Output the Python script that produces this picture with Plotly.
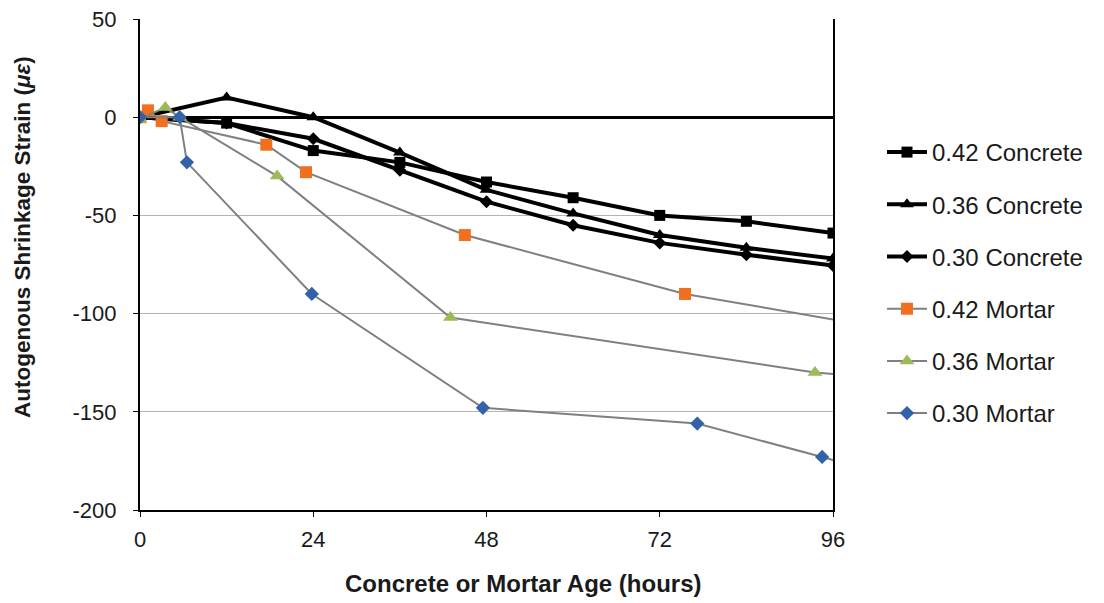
import plotly.graph_objects as go

# ---------------- data ----------------
conc_hours = [0, 12, 24, 36, 48, 60, 72, 84, 96]
conc_042 = [0, -3, -17, -23, -33, -41, -50, -53, -59]
conc_036 = [0, 10, 0, -18, -37, -49, -60, -66.5, -72]
conc_030 = [0, -3, -11, -27, -43, -55, -64, -70, -75.5]

mort042_hours = [0, 1.1, 3, 17.5, 23, 45, 75.5, 100]
mort042 = [0, 3.5, -2, -14, -28, -60, -90, -105.5]

mort036_hours = [0, 3.5, 5.5, 19, 43, 93.5, 100]
mort036 = [-1, 5, 0, -30, -102, -130, -132]

mort030_hours = [0, 5.5, 6.5, 23.8, 47.5, 77.2, 94.5, 100]
mort030 = [0, 0, -23, -90, -148, -156, -173, -178.5]

x_ticks = [0, 24, 48, 72, 96]
y_ticks = [50, 0, -50, -100, -150, -200]

FONT = "Liberation Sans, Arial, sans-serif"

fig = go.Figure()

def add(name, x, y, color, lw, sym, msize, mcolor, group):
    fig.add_trace(go.Scatter(
        x=x, y=y, name=name, mode="lines+markers",
        line=dict(color=color, width=lw),
        marker=dict(symbol=sym, size=msize, color=mcolor,
                    line=dict(width=0)),
        legendgroup=group,
    ))

add("0.42 Concrete", conc_hours, conc_042, "#000000", 4, "square", 11, "#000000", "a")
add("0.36 Concrete", conc_hours, conc_036, "#000000", 4, "triangle-up", 12, "#000000", "b")
add("0.30 Concrete", conc_hours, conc_030, "#000000", 4, "diamond", 10, "#000000", "c")
add("0.42 Mortar", mort042_hours, mort042, "#808080", 2, "square", 12, "#F07020", "d")
add("0.36 Mortar", mort036_hours, mort036, "#808080", 2, "triangle-up", 13, "#9BBB59", "e")
add("0.30 Mortar", mort030_hours, mort030, "#808080", 2, "diamond", 11, "#3462A8", "f")

# page has an 8px body margin; figure occupies (8..1104, 8..603)
OFF = 8
W, H = 1104 - OFF, 603 - OFF
PL, PR, PT, PB = 140, 833, 19, 510          # plot area in page pixels
L, T = PL - OFF, PT - OFF
R, B = 1104 - PR, 603 - PB
PW, PH = PR - PL, PB - PT

def px(x):
    return (x - PL) / PW

def py(y):
    return (PB - y) / PH

fig.update_layout(
    width=W, height=H,
    margin=dict(l=L, r=R, t=T, b=B, pad=0, autoexpand=False),
    paper_bgcolor="white", plot_bgcolor="white",
    font=dict(family=FONT, size=21, color="#1a1a1a"),
    showlegend=True,
    legend=dict(
        x=px(882), y=py(130), xanchor="left", yanchor="top",
        font=dict(family=FONT, size=24, color="#1a1a1a"),
        traceorder="grouped", tracegroupgap=18, itemwidth=40,
        bgcolor="rgba(0,0,0,0)",
    ),
    xaxis=dict(
        range=[0, 96], tickvals=x_ticks, ticktext=[str(v) for v in x_ticks],
        showgrid=False, zeroline=False, automargin=False,
        showline=True, linecolor="#000000", linewidth=2,
        ticks="outside", ticklen=5, tickcolor="#000000", tickwidth=1,
        ticklabelstandoff=4, ticklabeloverflow="allow",
        tickfont=dict(size=22, color="#1a1a1a"),
    ),
    yaxis=dict(
        range=[-200, 50], tickvals=y_ticks, ticktext=[str(v) for v in y_ticks],
        showgrid=True, gridcolor="#b4b4b4", gridwidth=1,
        zeroline=True, zerolinecolor="#000000", zerolinewidth=2.5,
        showline=True, linecolor="#000000", linewidth=2, mirror=True,
        automargin=False,
        ticks="outside", ticklen=5, tickcolor="#000000", tickwidth=1,
        ticklabelstandoff=12, ticklabeloverflow="allow",
        tickfont=dict(size=22, color="#1a1a1a"),
    ),
    annotations=[
        dict(text="<b>Concrete or Mortar Age (hours)</b>",
             xref="paper", yref="paper",
             x=px(523), y=py(583),
             xanchor="center", yanchor="middle", showarrow=False,
             font=dict(family=FONT, size=24, color="#1a1a1a")),
        dict(text="<b>Autogenous Shrinkage Strain (<i>με</i>)</b>",
             xref="paper", yref="paper",
             x=px(22), y=py(237), textangle=-90,
             xanchor="center", yanchor="middle", showarrow=False,
             font=dict(family=FONT, size=22.5, color="#1a1a1a")),
    ],
)

fig.write_html("out.html")
